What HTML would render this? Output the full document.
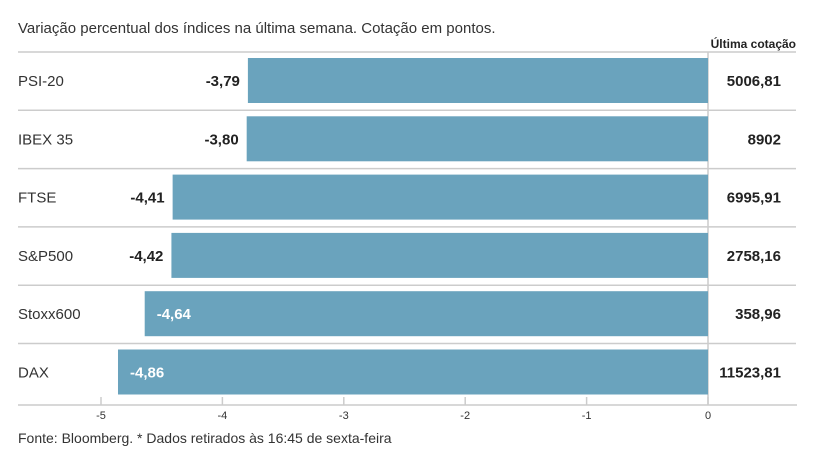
<!DOCTYPE html>
<html><head><meta charset="utf-8"><style>
body{margin:0;background:#fff;font-family:"Liberation Sans","DejaVu Sans",sans-serif;}
svg text{font-family:"Liberation Sans","DejaVu Sans",sans-serif;}
</style></head><body>
<svg id="chart" width="817" height="460" xmlns="http://www.w3.org/2000/svg">
<text x="18" y="33" font-size="15" fill="#333">Variação percentual dos índices na última semana. Cotação em pontos.</text>
<text x="796" y="48" font-size="12" font-weight="bold" fill="#222" text-anchor="end">Última cotação</text>
<g id="grid"></g><g id="bars"></g><g id="axis"></g>
<text x="18" y="443" font-size="14" fill="#333">Fonte: Bloomberg.  * Dados retirados às 16:45 de sexta-feira</text>
</svg>
<script>
const categories=["PSI-20","IBEX 35","FTSE","S&P500","Stoxx600","DAX"];
const changes=[-3.79,-3.80,-4.41,-4.42,-4.64,-4.86];
const quotes=["5006,81","8902","6995,91","2758,16","358,96","11523,81"];
const ticks=[-5,-4,-3,-2,-1,0];
const NS="http://www.w3.org/2000/svg";
const x=v=>708+v*121.4;
const rowTop=i=>52+i*58.3;
function mk(t,a,p){const e=document.createElementNS(NS,t);for(const k in a)e.setAttribute(k,a[k]);p.appendChild(e);return e;}
const grid=document.getElementById('grid'),bars=document.getElementById('bars'),axis=document.getElementById('axis');
for(let i=0;i<categories.length;i++){
  const l=mk('line',{x1:18,x2:796,y1:rowTop(i),y2:rowTop(i),stroke:'#ccc','stroke-width':1.5},grid);
  
  
}
const z=mk('line',{x1:x(0),x2:x(0),y1:52,y2:405,stroke:'#ccc','stroke-width':1.5},grid);


categories.forEach((c,i)=>{
  const t=rowTop(i),cy=t+29;
  const r=mk('rect',{x:x(changes[i]),y:t+6,width:x(0)-x(changes[i]),height:45,fill:'#6aa3bd'},bars);
  
  
  const lab=mk('text',{x:18,y:cy+5,'font-size':15,fill:'#333'},bars);lab.textContent=c;
  
  
  const inside=changes[i]<-4.5;
  const v=mk('text',{x:inside?x(changes[i])+12:x(changes[i])-8,y:cy+5,'font-size':15,'font-weight':'bold',fill:inside?'#fff':'#222','text-anchor':inside?'start':'end'},bars);
  v.textContent=changes[i].toFixed(2).replace('.',',');
  
  
  const q=mk('text',{x:781,y:cy+5,'font-size':15,'font-weight':'bold',fill:'#222','text-anchor':'end'},bars);q.textContent=quotes[i];
  
  
});
const ax=mk('line',{x1:18,x2:797,y1:405,y2:405,stroke:'#ccc','stroke-width':1.5},axis);


ticks.forEach(v=>{
  const tk=mk('line',{x1:x(v),x2:x(v),y1:397,y2:405,stroke:'#ccc','stroke-width':1.5},axis);
  
  
  const tl=mk('text',{x:x(v),y:419,'font-size':11,fill:'#333','text-anchor':'middle'},axis);tl.textContent=v;
  
  
});
</script>
</body></html>
